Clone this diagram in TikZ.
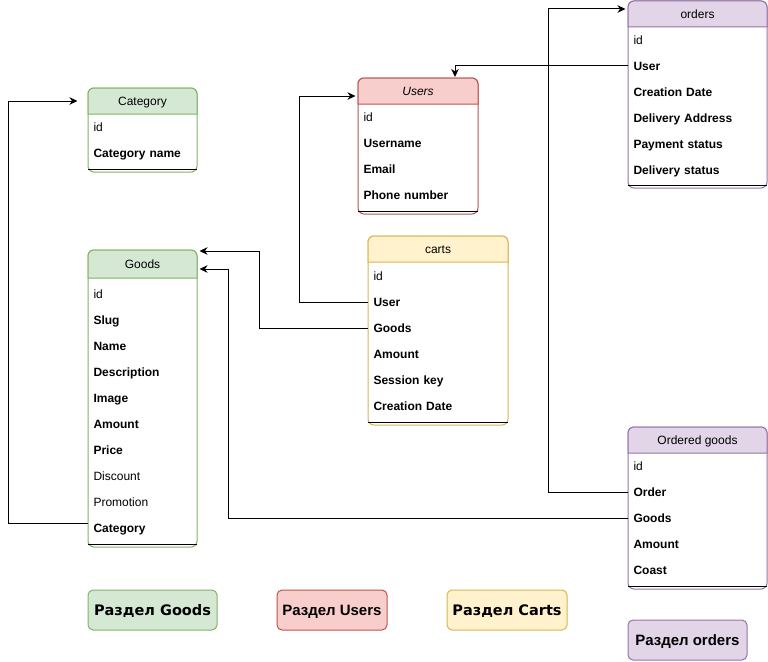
\documentclass[tikz,border=0pt]{standalone}
\usepackage{fontspec}
\setmainfont{Liberation Sans}
\newfontfamily\legendfont{DejaVu Sans}
\usetikzlibrary{arrows.meta}

\definecolor{goodsfill}{HTML}{D5E8D4}
\definecolor{goodsline}{HTML}{82B366}
\definecolor{usersfill}{HTML}{F8CECC}
\definecolor{usersline}{HTML}{B85450}
\definecolor{cartsfill}{HTML}{FFF2CC}
\definecolor{cartsline}{HTML}{D6B656}
\definecolor{ordersfill}{HTML}{E1D5E7}
\definecolor{ordersline}{HTML}{9673A6}

\tikzset{
  tabletitle/.style={inner sep=0pt, minimum height=25pt, minimum width=#1, text height=8.5pt, text depth=0pt, font=\fontsize{12}{14}\selectfont},
  fieldrow/.style={anchor=west, inner xsep=5pt, inner ysep=0pt, minimum height=26pt, text height=8.5pt, text depth=0pt, text width=#1, align=left, font=\fontsize{12}{14}\selectfont\bfseries},
  plainrow/.style={fieldrow=#1, font=\fontsize{12}{14}\selectfont},
  link/.style={-{Stealth[length=8pt,width=7.5pt,inset=2.5pt]}, line width=1pt},
  section/.style={draw, line width=1pt, rounded corners=5pt, minimum height=40pt, text height=10.5pt, text depth=0pt, inner sep=0pt}
}

\begin{document}
\begin{tikzpicture}[x=1pt, y=-1pt, line width=1pt]
    \useasboundingbox (0,0) rectangle (768,661);
    % Category
    \filldraw [draw=goodsline,fill=white,rounded corners=6pt] (88,88) rectangle (197,172);
    \filldraw [draw=goodsline,fill=goodsfill] (88,114) [rounded corners=6pt] -- (88,88) -- (197,88) [sharp corners] -- (197,114) -- cycle;
    \draw (88,169) -- (197,169);
    \node [tabletitle=109pt] (category) at (142.5,101) {Category};
    \node [plainrow=99pt] (category-id) at (88,127) {id};
    \node [fieldrow=99pt] (category-name) at (88,153) {Category name};
    % Goods
    \filldraw [draw=goodsline,fill=white,rounded corners=6pt] (88,250) rectangle (197,547);
    \filldraw [draw=goodsline,fill=goodsfill] (88,278) [rounded corners=6pt] -- (88,250) -- (197,250) [sharp corners] -- (197,278) -- cycle;
    \draw (88,544) -- (197,544);
    \node [tabletitle=109pt] (goods) at (142.5,264) {Goods};
    \node [plainrow=99pt] (goods-id) at (88,294) {id};
    \node [fieldrow=99pt] (goods-slug) at (88,320) {Slug};
    \node [fieldrow=99pt] (goods-name) at (88,346) {Name};
    \node [fieldrow=99pt] (goods-description) at (88,372) {Description};
    \node [fieldrow=99pt] (goods-image) at (88,398) {Image};
    \node [fieldrow=99pt] (goods-amount) at (88,424) {Amount};
    \node [fieldrow=99pt] (goods-price) at (88,450) {Price};
    \node [plainrow=99pt] (goods-discount) at (88,476) {Discount};
    \node [plainrow=99pt] (goods-promotion) at (88,502) {Promotion};
    \node [fieldrow=99pt] (goods-category) at (88,528) {Category};
    % Users
    \filldraw [draw=usersline,fill=white,rounded corners=6pt] (358,78) rectangle (478,214);
    \filldraw [draw=usersline,fill=usersfill] (358,104) [rounded corners=6pt] -- (358,78) -- (478,78) [sharp corners] -- (478,104) -- cycle;
    \draw (358,211) -- (478,211);
    \node [tabletitle=120pt] (users) at (418,91) {\itshape Users};
    \node [plainrow=110pt] (users-id) at (358,117) {id};
    \node [fieldrow=110pt] (users-username) at (358,143) {Username};
    \node [fieldrow=110pt] (users-email) at (358,169) {Email};
    \node [fieldrow=110pt] (users-phone) at (358,195) {Phone number};
    % carts
    \filldraw [draw=cartsline,fill=white,rounded corners=6pt] (368,236) rectangle (508,425);
    \filldraw [draw=cartsline,fill=cartsfill] (368,262) [rounded corners=6pt] -- (368,236) -- (508,236) [sharp corners] -- (508,262) -- cycle;
    \draw (368,422) -- (508,422);
    \node [tabletitle=140pt] (carts) at (438,249) {carts};
    \node [plainrow=130pt] (carts-id) at (368,276) {id};
    \node [fieldrow=130pt] (carts-user) at (368,302) {User};
    \node [fieldrow=130pt] (carts-goods) at (368,328) {Goods};
    \node [fieldrow=130pt] (carts-amount) at (368,354) {Amount};
    \node [fieldrow=130pt] (carts-session) at (368,380) {Session key};
    \node [fieldrow=130pt] (carts-date) at (368,406) {Creation Date};
    % orders
    \filldraw [draw=ordersline,fill=white,rounded corners=6pt] (628,1) rectangle (767,188);
    \filldraw [draw=ordersline,fill=ordersfill] (628,27) [rounded corners=6pt] -- (628,1) -- (767,1) [sharp corners] -- (767,27) -- cycle;
    \draw (628,185) -- (767,185);
    \node [tabletitle=139pt] (orders) at (697.5,14) {orders};
    \node [plainrow=129pt] (orders-id) at (628,40) {id};
    \node [fieldrow=129pt] (orders-user) at (628,66) {User};
    \node [fieldrow=129pt] (orders-date) at (628,92) {Creation Date};
    \node [fieldrow=129pt] (orders-address) at (628,118) {Delivery Address};
    \node [fieldrow=129pt] (orders-payment) at (628,144) {Payment status};
    \node [fieldrow=129pt] (orders-delivery) at (628,170) {Delivery status};
    % Ordered goods
    \filldraw [draw=ordersline,fill=white,rounded corners=6pt] (628,427) rectangle (767,589);
    \filldraw [draw=ordersline,fill=ordersfill] (628,453) [rounded corners=6pt] -- (628,427) -- (767,427) [sharp corners] -- (767,453) -- cycle;
    \draw (628,586) -- (767,586);
    \node [tabletitle=139pt] (ordered) at (697.5,440) {Ordered goods};
    \node [plainrow=129pt] (ordered-id) at (628,466) {id};
    \node [fieldrow=129pt] (ordered-order) at (628,492) {Order};
    \node [fieldrow=129pt] (ordered-goods) at (628,518) {Goods};
    \node [fieldrow=129pt] (ordered-amount) at (628,544) {Amount};
    \node [fieldrow=129pt] (ordered-coast) at (628,570) {Coast};
    % sections
    \node [section,draw=goodsline,fill=goodsfill,minimum width=129pt,font=\legendfont\bfseries\fontsize{14.5}{16}\selectfont] (section-goods) at (152.5,610) {Раздел Goods};
    \node [section,draw=usersline,fill=usersfill,minimum width=110pt,font=\bfseries\fontsize{15}{17}\selectfont] (section-users) at (332,610) {Раздел Users};
    \node [section,draw=cartsline,fill=cartsfill,minimum width=120pt,font=\legendfont\bfseries\fontsize{14.5}{16}\selectfont] (section-carts) at (507,610) {Раздел Carts};
    \node [section,draw=ordersline,fill=ordersfill,minimum width=119pt,font=\bfseries\fontsize{15}{17}\selectfont] (section-orders) at (687.5,640) {Раздел orders};
    % links
    \draw [link] ([yshift=5pt]goods-category.west) -- ++(-80,0) |- ([xshift=-10pt]category.west);
    \draw [link] (carts-user.west) -- ++(-69,0) |- ([xshift=-2pt,yshift=-5pt]users.west);
    \draw [link] (carts-goods.west) -- ++(-109,0) |- ([xshift=2pt,yshift=13pt]goods.east);
    \draw [link] (orders-user.west) -| ([xshift=37pt,yshift=1pt]users.north);
    \draw [link] (ordered-order.west) -- ++(-80,0) |- ([xshift=-2pt,yshift=5pt]orders.west);
    \draw [link] (ordered-goods.west) -- ++(-400,0) |- ([xshift=2pt,yshift=-5pt]goods.east);
\end{tikzpicture}
\end{document}
